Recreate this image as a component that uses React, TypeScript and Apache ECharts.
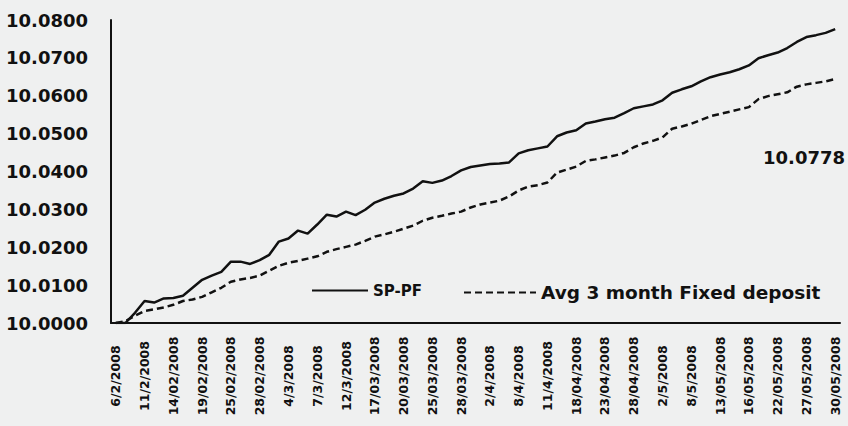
import React, { useEffect, useRef } from "react";
import * as echarts from "echarts";

const dates = [
  "6/2/2008", "7/2/2008", "8/2/2008",
  "11/2/2008", "12/2/2008", "13/2/2008",
  "14/02/2008", "15/02/2008", "18/02/2008",
  "19/02/2008", "21/02/2008", "22/02/2008",
  "25/02/2008", "26/02/2008", "27/02/2008",
  "28/02/2008", "29/02/2008", "3/3/2008",
  "4/3/2008", "5/3/2008", "6/3/2008",
  "7/3/2008", "10/3/2008", "11/3/2008",
  "12/3/2008", "13/3/2008", "14/3/2008",
  "17/03/2008", "18/03/2008", "19/03/2008",
  "20/03/2008", "21/03/2008", "24/03/2008",
  "25/03/2008", "26/03/2008", "27/03/2008",
  "28/03/2008", "31/03/2008", "1/4/2008",
  "2/4/2008", "4/4/2008", "7/4/2008",
  "8/4/2008", "9/4/2008", "10/4/2008",
  "11/4/2008", "15/04/2008", "17/04/2008",
  "18/04/2008", "21/04/2008", "22/04/2008",
  "23/04/2008", "24/04/2008", "25/04/2008",
  "28/04/2008", "29/04/2008", "30/04/2008",
  "2/5/2008", "5/5/2008", "6/5/2008",
  "8/5/2008", "9/5/2008", "12/5/2008",
  "13/05/2008", "14/05/2008", "15/05/2008",
  "16/05/2008", "19/05/2008", "20/05/2008",
  "22/05/2008", "23/05/2008", "26/05/2008",
  "27/05/2008", "28/05/2008", "29/05/2008",
  "30/05/2008",
];

const spPf = [
  10.0, 10.0, 10.0027, 10.0058, 10.0054, 10.0065, 10.0066, 10.0072, 10.0093, 10.0114,
  10.0125, 10.0135, 10.0162, 10.0162, 10.0156, 10.0166, 10.018, 10.0215, 10.0223, 10.0244,
  10.0236, 10.026, 10.0286, 10.0281, 10.0294, 10.0285, 10.0299, 10.0318, 10.0328, 10.0336,
  10.0342, 10.0355, 10.0374, 10.037, 10.0376, 10.0388, 10.0403, 10.0412, 10.0416, 10.042,
  10.0421, 10.0424, 10.0448, 10.0456, 10.0461, 10.0466, 10.0493, 10.0503, 10.0509, 10.0527,
  10.0532, 10.0538, 10.0542, 10.0554, 10.0567, 10.0572, 10.0577, 10.0588, 10.0608, 10.0617,
  10.0625, 10.0638, 10.0649, 10.0656, 10.0662, 10.067, 10.068, 10.0699, 10.0707, 10.0714,
  10.0726, 10.0742, 10.0755, 10.076, 10.0766, 10.0776,
];

const fixedDeposit = [
  10.0, 10.0005, 10.0019, 10.0032, 10.0036, 10.0041, 10.0048, 10.0058, 10.0062, 10.0069,
  10.0081, 10.0093, 10.0109, 10.0115, 10.0119, 10.0125, 10.0138, 10.0151, 10.0159, 10.0164,
  10.017, 10.0176, 10.0188, 10.0195, 10.0201, 10.0207, 10.0217, 10.0228, 10.0234, 10.0241,
  10.0249, 10.0257, 10.027, 10.0278, 10.0283, 10.0289, 10.0294, 10.0305, 10.0313, 10.0318,
  10.0323, 10.0334, 10.035, 10.036, 10.0364, 10.0371, 10.0397, 10.0405, 10.0413, 10.0428,
  10.0432, 10.0437, 10.0442, 10.0449, 10.0464, 10.0474, 10.0481, 10.049, 10.0513, 10.0519,
  10.0526, 10.0536, 10.0546, 10.0552, 10.0558, 10.0564, 10.057, 10.0591, 10.0599, 10.0604,
  10.0609, 10.0624, 10.063, 10.0634, 10.0638, 10.0644,
];

const seriesNames = ["SP-PF", "Avg 3 month Fixed deposit"];
const finalValueLabel = "10.0778";

const FONT = "'DejaVu Sans', sans-serif";

export default function App() {
  const ref = useRef<HTMLDivElement>(null);

  useEffect(() => {
    if (!ref.current) return;
    const chart = echarts.init(ref.current, null, { renderer: "svg" });
    const legendCommon = {
      top: 278,
      itemHeight: 14,
      itemStyle: { opacity: 0, borderWidth: 0 },
    };
    chart.setOption({
      animation: false,
      backgroundColor: "#eff0f0",
      grid: { left: 111, right: 8, top: 20, bottom: 103, containLabel: false },
      legend: [
        {
          ...legendCommon,
          data: [seriesNames[0]],
          left: 306,
          itemWidth: 56,
          textStyle: { fontFamily: FONT, fontWeight: "bold", fontSize: 15, color: "#111" },
        },
        {
          ...legendCommon,
          data: [seriesNames[1]],
          left: 458,
          itemWidth: 72,
          textStyle: { fontFamily: FONT, fontWeight: "bold", fontSize: 18.5, color: "#111" },
        },
      ],
      xAxis: {
        type: "category",
        data: dates,
        boundaryGap: true,
        axisLine: { show: true, lineStyle: { color: "#111", width: 2 } },
        axisTick: { show: false },
        splitLine: { show: false },
        axisLabel: {
          interval: 2,
          rotate: 90,
          align: "center",
          verticalAlign: "middle",
          margin: 53,
          fontFamily: FONT,
          fontWeight: "bold",
          fontSize: 12.5,
          color: "#111",
        },
      },
      yAxis: {
        type: "value",
        min: 10.0,
        max: 10.08,
        interval: 0.01,
        axisLine: { show: true, lineStyle: { color: "#111", width: 2 } },
        axisTick: { show: false },
        splitLine: { show: false },
        axisLabel: {
          margin: 23,
          fontFamily: FONT,
          fontWeight: "bold",
          fontSize: 18,
          color: "#111",
          formatter: (v: number) => v.toFixed(4),
        },
      },
      series: [
        {
          name: seriesNames[0],
          type: "line",
          data: spPf,
          symbol: "none",
          lineStyle: { color: "#111", width: 2.5 },
          itemStyle: { color: "#111" },
        },
        {
          name: seriesNames[1],
          type: "line",
          data: fixedDeposit,
          symbol: "none",
          lineStyle: { color: "#111", width: 2.5, type: [7, 4] },
          itemStyle: { color: "#111" },
        },
      ],
      graphic: [
        {
          type: "text",
          left: 763,
          top: 148,
          style: {
            text: finalValueLabel,
            fontFamily: FONT,
            fontWeight: "bold",
            fontSize: 18,
            fill: "#111",
          },
        },
      ],
    });
    return () => chart.dispose();
  }, []);

  return (
    <div
      ref={ref}
      style={{ position: "fixed", left: 0, top: 0, width: 848, height: 426 }}
    />
  );
}
